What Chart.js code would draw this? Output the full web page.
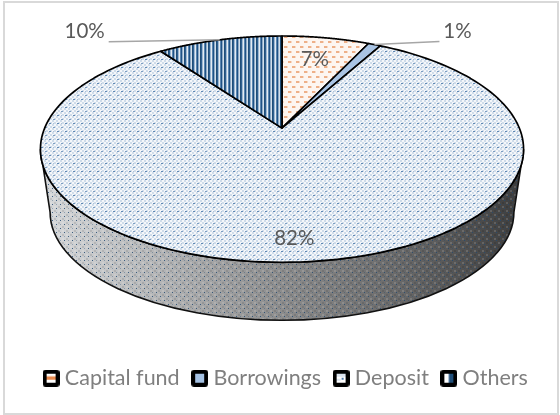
<!DOCTYPE html>
<html>
<head>
<meta charset="utf-8">
<style>
html,body{margin:0;padding:0;background:#fff;overflow:hidden}
#wrap{position:relative;width:560px;height:415px}
#frame{position:absolute;left:3px;top:1px;width:552px;height:410px;border:2px solid #d9d9d9;pointer-events:none}
canvas{position:absolute;left:0;top:0}
</style>
<script src="https://cdn.jsdelivr.net/npm/chart.js@4"></script>
</head>
<body>
<div id="wrap"><canvas id="c" width="560" height="415"></canvas><div id="frame"></div></div>
<script>
const categories = ['Capital fund', 'Borrowings', 'Deposit', 'Others'];
const shares = [7, 1, 82, 10];

// projection of the flat pie onto the tilted top face
const aspect = 2.135, apexShift = -0.186;
const wallDepth = 58, wallWidth = 0.96, wallHeight = 0.955;
const labelFont = '20.5px Lato', labelColor = '#595959', leaderColor = '#a6a6a6';
const labelOffsets = [[-11, 22], [83, -13], [-6, -24], [-135, -8]];
const leaderOffsets = [null, [65, -3], null, [-111, 2]];

function tile(w, h, draw) {
  const c = document.createElement('canvas');
  c.width = w; c.height = h;
  draw(c.getContext('2d'));
  return c;
}
function px(g, color, x, y, w = 1, h = 1) { g.fillStyle = color; g.fillRect(x, y, w, h); }

const tiles = {
  capital: tile(8, 10, g => {
    px(g, '#fdf6f1', 0, 0, 8, 10);
    px(g, '#eeb088', 0, 1, 3, 2); px(g, '#f7d9c5', 3, 1, 1, 2);
    px(g, '#eeb088', 4, 6, 3, 2); px(g, '#f7d9c5', 7, 6, 1, 2);
  }),
  deposit: tile(8, 8, g => {
    px(g, '#f5f7fa', 0, 0, 8, 8);
    for (let y = 0; y < 8; y += 2) for (let x = (y % 4 ? 2 : 0); x < 8; x += 4) px(g, '#cfdcea', x, y, 2, 2);
    px(g, '#5f88b4', 1, 3, 2, 1); px(g, '#7b9dc2', 5, 7, 2, 1); px(g, '#a9c0d8', 5, 3, 1, 1);
  }),
  others: tile(8, 4, g => {
    ['#1f4e79', '#2f6090', '#9db8d2', '#e4ebf2', '#5a86b0', '#1f5285', '#8facc8', '#d3dfea'].forEach((col, i) => px(g, col, i, 0, 1, 4));
  }),
  wall: tile(8, 8, g => {
    px(g, 'rgba(255,255,255,.14)', 2, 2, 2, 2); px(g, 'rgba(255,255,255,.14)', 6, 6, 2, 2);
    px(g, 'rgba(0,0,0,.1)', 6, 2, 2, 2); px(g, 'rgba(0,0,0,.1)', 2, 6, 2, 2);
    px(g, 'rgba(35,75,115,.85)', 0, 0); px(g, 'rgba(35,75,115,.85)', 4, 4);
    px(g, 'rgba(35,75,115,.35)', 4, 0); px(g, 'rgba(35,75,115,.35)', 0, 4);
  })
};

function swatch(paint) {
  return tile(17, 17, g => {
    g.fillStyle = '#000';
    g.beginPath(); g.roundRect(0, 0, 17, 17, 3); g.fill();
    g.fillStyle = '#fff'; g.fillRect(4, 4, 9, 9);
    paint(g);
  });
}
const swatches = [
  swatch(g => { px(g, '#e98a4e', 4, 7, 9, 3); px(g, '#f6cdb2', 4, 6, 9, 1); }),
  swatch(g => { px(g, '#a5c2e4', 4, 4, 9, 9); }),
  swatch(g => { px(g, '#dbe4ee', 4, 4, 9, 3); px(g, '#4f7cac', 9, 8, 2, 2); px(g, '#dbe4ee', 4, 9, 4, 2); }),
  swatch(g => { px(g, '#1f4e79', 9, 4, 4, 9); px(g, '#7fa0c2', 8, 4, 1, 9); })
];

function project(arc, angle) {
  const u = Math.cos(angle), v = Math.sin(angle), k = apexShift;
  const den = 1 + k * v;
  return {
    x: arc.x + arc.outerRadius * aspect * u * Math.sqrt(1 - k * k) / den,
    y: arc.y + arc.outerRadius * (v + k) / den
  };
}

const pie3d = {
  id: 'pie3d',
  beforeDatasetDraw(chart, args) {
    const ctx = chart.ctx, arcs = args.meta.data;
    const fills = [
      ctx.createPattern(tiles.capital, 'repeat'),
      '#a9c4e4',
      ctx.createPattern(tiles.deposit, 'repeat'),
      ctx.createPattern(tiles.others, 'repeat')
    ];
    const first = arcs[0], cx = first.x, cy = first.y;
    const A = first.outerRadius * aspect, B = first.outerRadius;
    const a2 = A * wallWidth, b2 = B * wallHeight, cy2 = cy + B + wallDepth - b2;

    // side wall
    ctx.save();
    ctx.beginPath();
    ctx.ellipse(cx, cy, A, B, 0, 0, Math.PI);
    ctx.lineTo(cx - a2, cy2);
    ctx.ellipse(cx, cy2, a2, b2, 0, Math.PI, 0, true);
    ctx.closePath();
    const grad = ctx.createLinearGradient(cx - A, 0, cx + A, 0);
    grad.addColorStop(0, '#d8dadc');
    grad.addColorStop(0.25, '#b4b5b6');
    grad.addColorStop(0.5, '#8d8d8d');
    grad.addColorStop(0.75, '#686868');
    grad.addColorStop(1, '#3c3c3c');
    ctx.fillStyle = grad; ctx.fill();
    ctx.fillStyle = ctx.createPattern(tiles.wall, 'repeat'); ctx.fill();
    ctx.strokeStyle = '#111'; ctx.lineWidth = 1.6; ctx.stroke();

    // top face sectors
    arcs.forEach((arc, i) => {
      const s = arc.startAngle, e = arc.endAngle;
      ctx.beginPath();
      ctx.moveTo(cx, first.y + B * apexShift);
      for (let j = 0; j <= 160; j++) {
        const p = project(arc, s + (e - s) * j / 160);
        ctx.lineTo(p.x, p.y);
      }
      ctx.closePath();
      ctx.fillStyle = fills[i]; ctx.fill();
      ctx.strokeStyle = '#000'; ctx.lineWidth = 1.7; ctx.lineJoin = 'round'; ctx.stroke();
    });

    // leader lines and value labels
    ctx.font = labelFont;
    ctx.textAlign = 'center'; ctx.textBaseline = 'middle';
    arcs.forEach((arc, i) => {
      const p = project(arc, (arc.startAngle + arc.endAngle) / 2);
      if (leaderOffsets[i]) {
        ctx.beginPath(); ctx.moveTo(p.x, p.y);
        ctx.lineTo(p.x + leaderOffsets[i][0], p.y + leaderOffsets[i][1]);
        ctx.strokeStyle = leaderColor; ctx.lineWidth = 1.5; ctx.stroke();
      }
      ctx.fillStyle = labelColor;
      ctx.fillText(shares[i] + '%', p.x + labelOffsets[i][0], p.y + labelOffsets[i][1]);
    });
    ctx.restore();
    return false;
  }
};

new Chart(document.getElementById('c'), {
  type: 'pie',
  data: { labels: categories, datasets: [{ data: shares, borderWidth: 0, hoverOffset: 0 }] },
  plugins: [pie3d],
  options: {
    responsive: false,
    animation: false,
    layout: { padding: { top: 36, left: 16, right: 0, bottom: 16 } },
    plugins: {
      tooltip: { enabled: false },
      title: { display: true, text: '', position: 'bottom', weight: 500, font: { size: 1 }, padding: { top: 87, bottom: 0 } },
      subtitle: { display: true, text: '', position: 'right', fullSize: false, font: { size: 1 }, padding: { top: 5.4, bottom: 5.4 } },
      legend: {
        position: 'bottom',
        labels: {
          usePointStyle: true,
          pointStyleWidth: 6,
          boxHeight: 20,
          padding: 17,
          color: '#7f7f7f',
          font: { family: 'Lato', size: 21.5 },
          generateLabels: () => categories.map((t, i) => ({
            text: t, pointStyle: swatches[i], fontColor: '#7f7f7f', hidden: false, index: i, lineWidth: 0
          }))
        }
      }
    }
  }
});
</script>
</body>
</html>
